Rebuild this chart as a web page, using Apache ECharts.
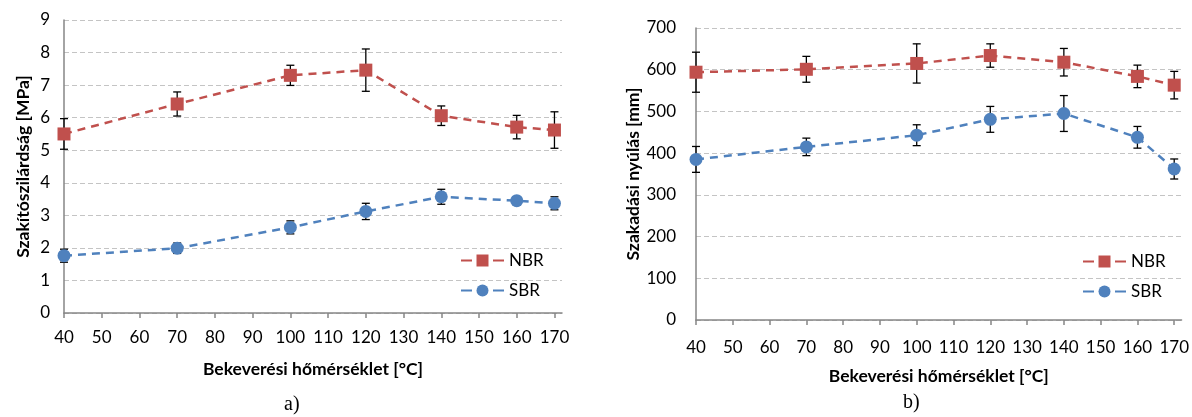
<!DOCTYPE html>
<html>
<head>
<meta charset="utf-8">
<script src="https://cdn.jsdelivr.net/npm/echarts@6/dist/echarts.min.js"></script>
<style>
  html, body { margin: 0; padding: 0; background: #fff; }
  #main { width: 1192px; height: 417px; }
</style>
</head>
<body>
<div id="main"></div>
<script>
// hőmérsékletek (x)
const temps = [40, 70, 100, 120, 140, 160, 170];
const xTicks = [40, 50, 60, 70, 80, 90, 100, 110, 120, 130, 140, 150, 160, 170];

// a) szakítószilárdság [MPa]
const nbrStrength = [5.5, 6.42, 7.3, 7.46, 6.06, 5.71, 5.62];
const nbrStrengthErr = [0.47, 0.37, 0.31, 0.65, 0.3, 0.36, 0.56];
const sbrStrength = [1.76, 1.99, 2.63, 3.12, 3.57, 3.45, 3.37];
const sbrStrengthErr = [0.2, 0.16, 0.2, 0.25, 0.23, 0.12, 0.2];

// b) szakadási nyúlás [mm]
const nbrElong = [594, 601, 615, 634, 618, 584, 563];
const nbrElongErr = [48, 31, 47, 28, 33, 27, 33];
const sbrElong = [385, 415, 443, 481, 495, 438, 362];
const sbrElongErr = [31, 21, 25, 31, 43, 26, 24];

const RED = '#C0504D';
const BLUE = '#4F81BD';
const FONT = 'Lato';

const chart = echarts.init(document.getElementById('main'));

// pontpárok a vonalakhoz
const pairs = (vals) => temps.map((t, i) => [t, vals[i]]);
// hibasáv adatok: [x, alsó, felső]
const errPairs = (vals, errs) => temps.map((t, i) => [t, vals[i] - errs[i], vals[i] + errs[i]]);

function errRender(params, api) {
  const x = api.value(0);
  const top = api.coord([x, api.value(2)]);
  const bot = api.coord([x, api.value(1)]);
  const cap = 4;
  const style = { stroke: '#000', lineWidth: 1.3 };
  return {
    type: 'group',
    children: [
      { type: 'line', shape: { x1: top[0], y1: top[1], x2: bot[0], y2: bot[1] }, style },
      { type: 'line', shape: { x1: top[0] - cap, y1: top[1], x2: top[0] + cap, y2: top[1] }, style },
      { type: 'line', shape: { x1: bot[0] - cap, y1: bot[1], x2: bot[0] + cap, y2: bot[1] }, style }
    ]
  };
}

function xAxis(gridIndex, labelMargin, nameGap) {
  return {
    gridIndex,
    type: 'value',
    min: 40,
    max: 172,
    axisLine: { show: true, lineStyle: { color: '#868686', width: 1.5 } },
    axisTick: { show: true, customValues: xTicks, length: 5, lineStyle: { color: '#868686', width: 1.5 } },
    axisLabel: { customValues: xTicks, margin: labelMargin, fontSize: 17, color: '#000', fontFamily: FONT },
    splitLine: { show: false },
    name: 'Bekeverési hőmérséklet [°C]',
    nameLocation: 'middle',
    nameGap,
    nameTextStyle: { fontSize: 17.5, fontWeight: 'bold', color: '#000', fontFamily: FONT }
  };
}

function yAxis(gridIndex, max, interval, name, labelMargin, nameGap) {
  return {
    gridIndex,
    type: 'value',
    min: 0,
    max,
    interval,
    axisLine: { show: true, lineStyle: { color: '#868686', width: 1.5 } },
    axisTick: { show: false },
    axisLabel: { margin: labelMargin, fontSize: 17, color: '#000', fontFamily: FONT },
    splitLine: { show: true, lineStyle: { color: '#c4c4c4', width: 1, type: [5, 3] } },
    name,
    nameLocation: 'middle',
    nameGap,
    nameRotate: 90,
    nameTextStyle: { fontSize: 17.5, fontWeight: 'bold', color: '#000', fontFamily: FONT }
  };
}

function lineSeries(name, idx, vals, color, symbol) {
  return {
    name,
    type: 'line',
    xAxisIndex: idx,
    yAxisIndex: idx,
    data: pairs(vals),
    symbol,
    symbolSize: 13,
    itemStyle: { color },
    lineStyle: { color, width: 2.5, type: [8, 6] },
    z: 3
  };
}

function errSeries(idx, vals, errs) {
  return {
    type: 'custom',
    xAxisIndex: idx,
    yAxisIndex: idx,
    data: errPairs(vals, errs),
    encode: { x: 0, y: [1, 2] },
    renderItem: errRender,
    silent: true,
    z: 2
  };
}

function legend(left, top) {
  return {
    orient: 'vertical',
    left,
    top,
    padding: 0,
    itemWidth: 43,
    itemHeight: 15,
    itemGap: 13,
    data: ['NBR', 'SBR'],
    lineStyle: { type: [11, 21], width: 2 },
    textStyle: { fontSize: 17, color: '#000', fontFamily: FONT }
  };
}

chart.setOption({
  animation: false,
  backgroundColor: '#fff',
  grid: [
    { left: 64, top: 20, width: 498, height: 293 },
    { left: 696, top: 28, width: 486, height: 292 }
  ],
  xAxis: [xAxis(0, 16, 47), xAxis(1, 19, 47)],
  yAxis: [
    yAxis(0, 9, 1, 'Szakítószilárdság [MPa]', 14, 32),
    yAxis(1, 700, 100, 'Szakadási nyúlás [mm]', 20, 52)
  ],
  legend: [legend(460, 252), legend(1082, 253)],
  series: [
    errSeries(0, nbrStrength, nbrStrengthErr),
    errSeries(0, sbrStrength, sbrStrengthErr),
    lineSeries('NBR', 0, nbrStrength, RED, 'rect'),
    lineSeries('SBR', 0, sbrStrength, BLUE, 'circle'),
    errSeries(1, nbrElong, nbrElongErr),
    errSeries(1, sbrElong, sbrElongErr),
    lineSeries('NBR', 1, nbrElong, RED, 'rect'),
    lineSeries('SBR', 1, sbrElong, BLUE, 'circle')
  ],
  graphic: [
    { type: 'text', left: 284, top: 395, style: { text: 'a)', font: '20px "Liberation Serif"', fill: '#000' } },
    { type: 'text', left: 903, top: 393, style: { text: 'b)', font: '20px "Liberation Serif"', fill: '#000' } }
  ]
});
</script>
</body>
</html>
